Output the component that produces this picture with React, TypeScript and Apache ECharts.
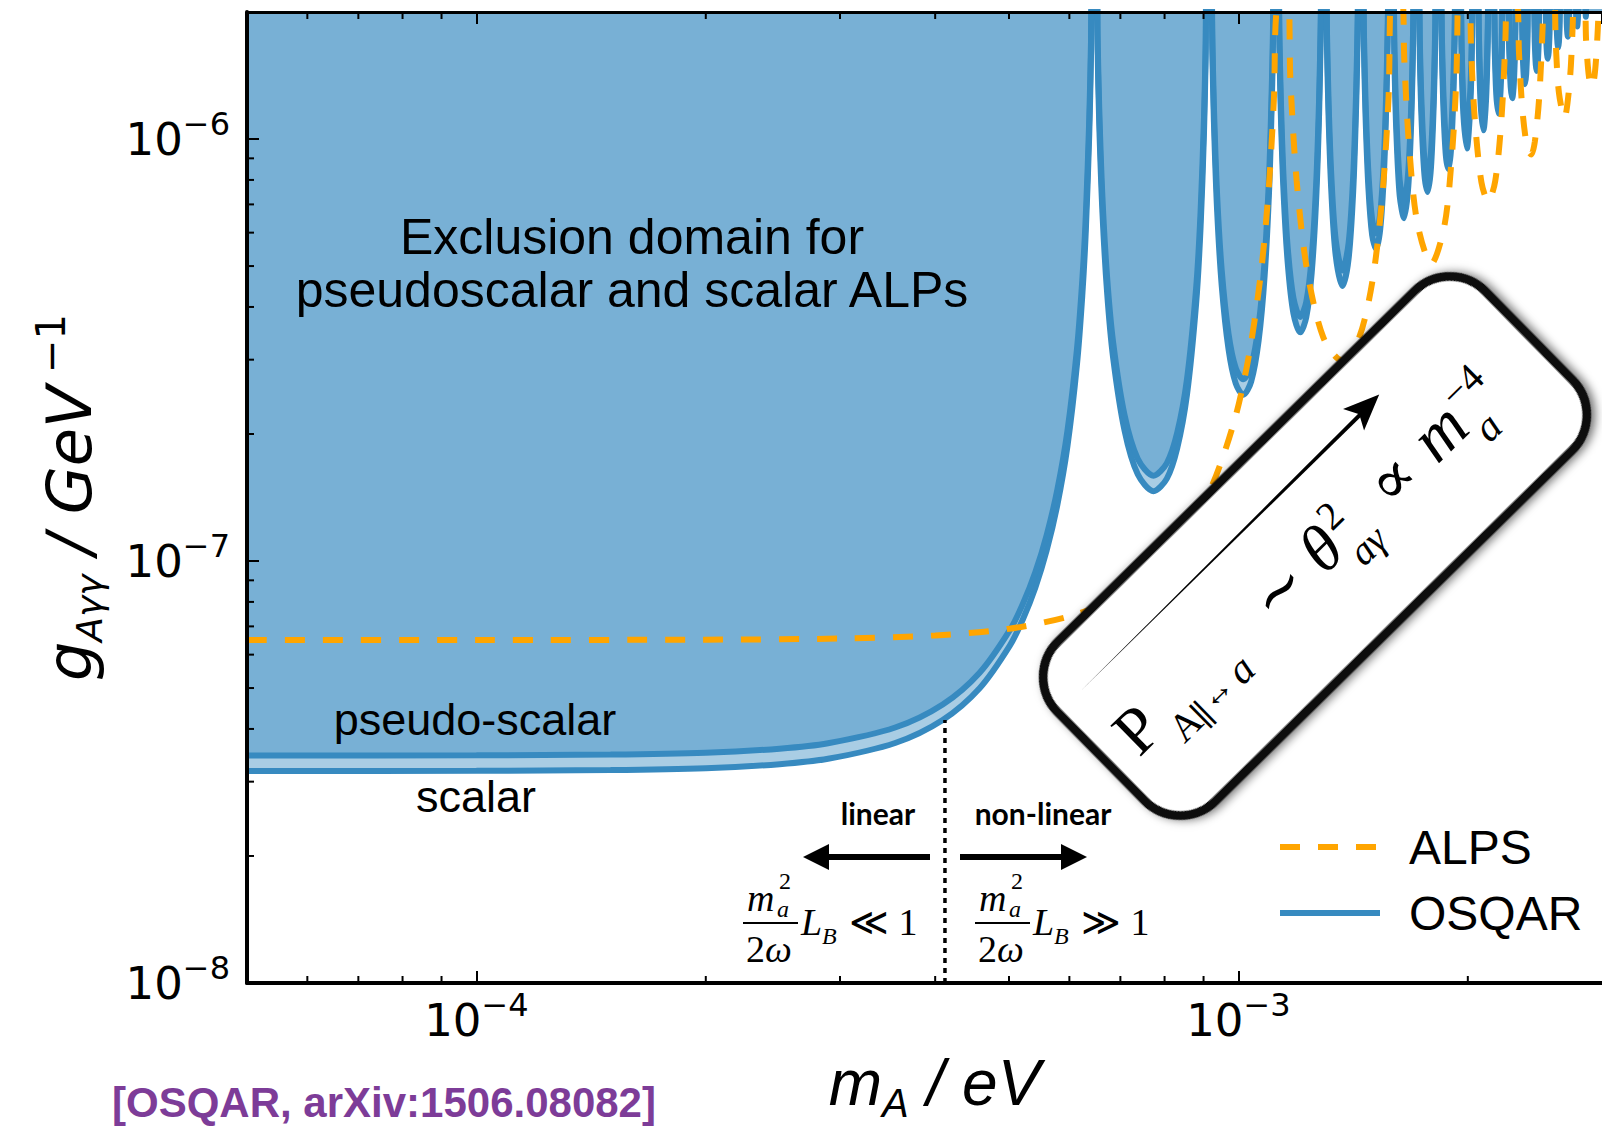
import React, { useEffect, useRef } from "react";
import * as echarts from "echarts";

const SANS = '"Liberation Sans", Arial, Helvetica, sans-serif';
const WIDE = '"DejaVu Sans", Verdana, sans-serif';
const SERIF = '"Liberation Serif", "Times New Roman", "DejaVu Serif", serif';
const ROUND = 'Lato, "DejaVu Sans", sans-serif';

// axis ranges
const massRange = [5e-5, 3e-3];
const couplingRange = [1e-8, 2e-6];

// OSQAR exclusion curves (mass in eV, coupling in GeV^-1)
const osqarMass = [
  5.0e-5, 1.0e-4, 1.5e-4, 2.0e-4, 2.5e-4, 2.894e-4, 3.544e-4, 4.092e-4, 4.575e-4, 5.012e-4, 5.216e-4, 5.413e-4, 5.603e-4, 5.787e-4, 5.965e-4, 6.138e-4, 6.239e-4, 6.306e-4, 6.372e-4, 6.405e-4, 6.421e-4,
  6.518e-4, 6.534e-4, 6.566e-4, 6.63e-4, 6.724e-4, 6.847e-4, 7.088e-4, 7.377e-4, 7.737e-4, 8.055e-4, 8.311e-4, 8.559e-4, 8.8e-4, 8.918e-4, 9.012e-4, 9.058e-4, 9.093e-4,
  9.218e-4, 9.241e-4, 9.286e-4, 9.376e-4, 9.509e-4, 9.705e-4, 9.918e-4, 1.0148e-3, 1.0392e-3, 1.0631e-3, 1.0826e-3, 1.098e-3, 1.1075e-3, 1.1103e-3, 1.1131e-3,
  1.129e-3, 1.1318e-3, 1.1373e-3, 1.1465e-3, 1.161e-3, 1.1807e-3, 1.2052e-3, 1.2276e-3, 1.2479e-3, 1.2645e-3, 1.2761e-3, 1.2826e-3, 1.2867e-3,
  1.3037e-3, 1.3069e-3, 1.3133e-3, 1.3244e-3, 1.3416e-3, 1.3694e-3, 1.3952e-3, 1.4145e-3, 1.4278e-3, 1.4344e-3, 1.438e-3,
  1.4575e-3, 1.4611e-3, 1.4683e-3, 1.4811e-3, 1.4979e-3, 1.516e-3, 1.5352e-3, 1.5528e-3, 1.5649e-3, 1.5716e-3, 1.5749e-3,
  1.5973e-3, 1.6019e-3, 1.611e-3, 1.6278e-3, 1.6495e-3, 1.671e-3, 1.6872e-3, 1.6958e-3, 1.7001e-3,
  1.7252e-3, 1.73e-3, 1.7385e-3, 1.7541e-3, 1.7719e-3, 1.7895e-3, 1.8047e-3, 1.8128e-3, 1.8174e-3,
  1.8448e-3, 1.8493e-3, 1.8584e-3, 1.8718e-3, 1.8863e-3, 1.9007e-3, 1.9139e-3, 1.9226e-3, 1.9269e-3,
  1.9566e-3, 1.9625e-3, 1.9731e-3, 1.9942e-3, 2.0151e-3, 2.0254e-3, 2.0311e-3,
  2.0623e-3, 2.0684e-3, 2.0795e-3, 2.0965e-3, 2.1134e-3, 2.1243e-3, 2.1302e-3,
  2.1633e-3, 2.1691e-3, 2.1797e-3, 2.1941e-3, 2.2083e-3, 2.2188e-3, 2.2244e-3,
  2.2599e-3, 2.2663e-3, 2.2765e-3, 2.2875e-3, 2.2984e-3, 2.3084e-3, 2.3148e-3,
  2.3524e-3, 2.3596e-3, 2.3684e-3, 2.3772e-3, 2.386e-3, 2.3948e-3, 2.4018e-3,
  2.4415e-3, 2.4484e-3, 2.456e-3, 2.4637e-3, 2.4713e-3, 2.4789e-3, 2.4857e-3,
  2.5274e-3, 2.5341e-3, 2.5407e-3, 2.5472e-3, 2.5538e-3, 2.5604e-3, 2.5669e-3,
  2.6105e-3, 2.617e-3, 2.6226e-3, 2.6281e-3, 2.6337e-3, 2.6393e-3, 2.6456e-3,
  2.6911e-3, 2.6973e-3, 2.702e-3, 2.7066e-3, 2.7112e-3, 2.7159e-3, 2.722e-3,
  2.7693e-3, 2.7753e-3, 2.7829e-3, 2.7904e-3, 2.7964e-3,
  2.8461e-3, 2.8571e-3, 2.868e-3,
  3.0e-3,
];

const osqarPseudoscalar = [
  3.46e-8, 3.463e-8, 3.477e-8, 3.512e-8, 3.591e-8, 3.699e-8, 4.031e-8, 4.571e-8, 5.436e-8, 6.858e-8, 7.93e-8, 9.404e-8, 1.153e-7, 1.479e-7, 2.035e-7, 3.166e-7, 4.633e-7, 6.602e-7, 1.12e-6, 1.696e-6, 2.273e-6,
  2.342e-6, 1.766e-6, 1.19e-6, 7.297e-7, 4.719e-7, 3.307e-7, 2.219e-7, 1.747e-7, 1.593e-7, 1.706e-7, 2.013e-7, 2.69e-7, 4.429e-7, 6.685e-7, 1.126e-6, 1.7e-6, 2.736e-6,
  2.345e-6, 1.769e-6, 1.195e-6, 7.387e-7, 4.875e-7, 3.459e-7, 2.867e-7, 2.695e-7, 2.895e-7, 3.628e-7, 5.178e-7, 8.505e-7, 1.46e-6, 1.862e-6, 2.567e-6,
  2.349e-6, 1.775e-6, 1.204e-6, 8.017e-7, 5.491e-7, 4.205e-7, 3.789e-7, 4.115e-7, 5.248e-7, 7.75e-7, 1.248e-6, 1.958e-6, 3.051e-6,
  2.355e-6, 1.783e-6, 1.217e-6, 8.103e-7, 5.778e-7, 4.879e-7, 5.673e-7, 8.152e-7, 1.333e-6, 2.025e-6, 2.866e-6,
  2.363e-6, 1.794e-6, 1.233e-6, 8.321e-7, 6.439e-7, 5.971e-7, 6.667e-7, 9.145e-7, 1.401e-6, 2.075e-6, 2.759e-6,
  2.253e-6, 1.678e-6, 1.147e-6, 7.993e-7, 7.065e-7, 8.422e-7, 1.257e-6, 1.88e-6, 2.552e-6,
  2.282e-6, 1.712e-6, 1.231e-6, 8.968e-7, 8.152e-7, 9.332e-7, 1.327e-6, 1.879e-6, 2.532e-6,
  2.225e-6, 1.745e-6, 1.268e-6, 9.913e-7, 9.24e-7, 1.022e-6, 1.345e-6, 1.886e-6, 2.428e-6,
  2.259e-6, 1.701e-6, 1.249e-6, 1.033e-6, 1.303e-6, 1.812e-6, 2.435e-6,
  2.293e-6, 1.743e-6, 1.304e-6, 1.141e-6, 1.347e-6, 1.838e-6, 2.446e-6,
  2.268e-6, 1.785e-6, 1.385e-6, 1.25e-6, 1.421e-6, 1.867e-6, 2.398e-6,
  2.256e-6, 1.778e-6, 1.447e-6, 1.359e-6, 1.475e-6, 1.845e-6, 2.367e-6,
  2.255e-6, 1.787e-6, 1.531e-6, 1.467e-6, 1.554e-6, 1.841e-6, 2.35e-6,
  2.261e-6, 1.843e-6, 1.631e-6, 1.576e-6, 1.651e-6, 1.89e-6, 2.344e-6,
  2.276e-6, 1.903e-6, 1.73e-6, 1.685e-6, 1.748e-6, 1.942e-6, 2.347e-6,
  2.297e-6, 1.965e-6, 1.83e-6, 1.794e-6, 1.846e-6, 1.999e-6, 2.359e-6,
  2.324e-6, 2.032e-6, 1.93e-6, 1.902e-6, 1.943e-6, 2.06e-6, 2.378e-6,
  2.359e-6, 2.103e-6, 2.011e-6, 2.126e-6, 2.405e-6,
  2.361e-6, 2.12e-6, 2.397e-6,
  2.336e-6,
];

const osqarScalar = [
  3.18e-8, 3.183e-8, 3.196e-8, 3.228e-8, 3.301e-8, 3.399e-8, 3.705e-8, 4.201e-8, 4.996e-8, 6.303e-8, 7.289e-8, 8.643e-8, 1.06e-7, 1.36e-7, 1.87e-7, 2.909e-7, 4.258e-7, 6.067e-7, 1.03e-6, 1.559e-6, 2.089e-6,
  2.153e-6, 1.623e-6, 1.093e-6, 6.707e-7, 4.338e-7, 3.039e-7, 2.04e-7, 1.605e-7, 1.464e-7, 1.568e-7, 1.85e-7, 2.472e-7, 4.07e-7, 6.144e-7, 1.034e-6, 1.562e-6, 2.515e-6,
  2.155e-6, 1.626e-6, 1.098e-6, 6.789e-7, 4.481e-7, 3.179e-7, 2.635e-7, 2.477e-7, 2.661e-7, 3.334e-7, 4.759e-7, 7.816e-7, 1.342e-6, 1.711e-6, 2.359e-6,
  2.159e-6, 1.631e-6, 1.106e-6, 7.368e-7, 5.047e-7, 3.865e-7, 3.482e-7, 3.782e-7, 4.823e-7, 7.123e-7, 1.147e-6, 1.8e-6, 2.804e-6,
  2.165e-6, 1.639e-6, 1.118e-6, 7.448e-7, 5.31e-7, 4.484e-7, 5.214e-7, 7.492e-7, 1.225e-6, 1.861e-6, 2.634e-6,
  2.172e-6, 1.649e-6, 1.133e-6, 7.648e-7, 5.918e-7, 5.487e-7, 6.128e-7, 8.405e-7, 1.287e-6, 1.907e-6, 2.536e-6,
  2.071e-6, 1.542e-6, 1.054e-6, 7.346e-7, 6.494e-7, 7.74e-7, 1.156e-6, 1.728e-6, 2.346e-6,
  2.097e-6, 1.573e-6, 1.131e-6, 8.243e-7, 7.493e-7, 8.576e-7, 1.219e-6, 1.727e-6, 2.327e-6,
  2.045e-6, 1.603e-6, 1.165e-6, 9.111e-7, 8.492e-7, 9.394e-7, 1.236e-6, 1.733e-6, 2.231e-6,
  2.077e-6, 1.564e-6, 1.148e-6, 9.491e-7, 1.198e-6, 1.666e-6, 2.238e-6,
  2.107e-6, 1.602e-6, 1.199e-6, 1.049e-6, 1.238e-6, 1.69e-6, 2.248e-6,
  2.084e-6, 1.64e-6, 1.273e-6, 1.149e-6, 1.306e-6, 1.716e-6, 2.204e-6,
  2.074e-6, 1.634e-6, 1.33e-6, 1.249e-6, 1.356e-6, 1.696e-6, 2.175e-6,
  2.072e-6, 1.642e-6, 1.407e-6, 1.349e-6, 1.428e-6, 1.692e-6, 2.16e-6,
  2.078e-6, 1.694e-6, 1.499e-6, 1.449e-6, 1.518e-6, 1.737e-6, 2.154e-6,
  2.091e-6, 1.749e-6, 1.59e-6, 1.549e-6, 1.607e-6, 1.785e-6, 2.157e-6,
  2.111e-6, 1.806e-6, 1.682e-6, 1.648e-6, 1.696e-6, 1.837e-6, 2.168e-6,
  2.136e-6, 1.867e-6, 1.774e-6, 1.748e-6, 1.786e-6, 1.893e-6, 2.186e-6,
  2.168e-6, 1.933e-6, 1.848e-6, 1.954e-6, 2.21e-6,
  2.17e-6, 1.948e-6, 2.203e-6,
  2.147e-6,
];

// ALPS exclusion curve
const alpsMass = [
  5e-5, 1e-4, 2e-4, 3e-4, 4e-4, 5e-4, 6e-4, 6.756e-4, 7.661e-4, 8.469e-4, 9.207e-4, 9.89e-4, 1.0341e-3, 1.0713e-3, 1.0954e-3, 1.1131e-3, 1.1247e-3,
  1.159e-3, 1.1702e-3, 1.1923e-3, 1.23e-3, 1.292e-3, 1.3656e-3, 1.4355e-3, 1.4977e-3, 1.5449e-3, 1.5741e-3, 1.5927e-3,
  1.6391e-3, 1.651e-3, 1.6745e-3, 1.7168e-3, 1.7912e-3, 1.8625e-3, 1.9041e-3, 1.9313e-3, 1.9548e-3,
  2.0075e-3, 2.0204e-3, 2.0429e-3, 2.084e-3, 2.1273e-3, 2.1728e-3, 2.2144e-3, 2.2408e-3, 2.2553e-3,
  2.3208e-3, 2.3348e-3, 2.3598e-3, 2.3955e-3, 2.4225e-3, 2.4493e-3, 2.4811e-3, 2.5072e-3, 2.5202e-3,
  2.5941e-3, 2.6092e-3, 2.634e-3, 2.6782e-3, 2.7217e-3, 2.7456e-3, 2.7598e-3,
  2.8436e-3, 2.8596e-3, 2.8845e-3, 2.9115e-3, 2.9383e-3, 2.9626e-3, 2.978e-3,
];
const alpsCoupling = [
  6.5e-8, 6.501e-8, 6.51e-8, 6.551e-8, 6.664e-8, 6.91e-8, 7.393e-8, 8.022e-8, 9.303e-8, 1.137e-7, 1.49e-7, 2.166e-7, 3.125e-7, 4.882e-7, 7.554e-7, 1.24e-6, 2.105e-6,
  2.235e-6, 1.371e-6, 7.976e-7, 4.917e-7, 3.392e-7, 2.992e-7, 3.331e-7, 4.558e-7, 7.341e-7, 1.256e-6, 2.31e-6,
  2.245e-6, 1.529e-6, 9.671e-7, 6.331e-7, 5.064e-7, 6.198e-7, 8.906e-7, 1.372e-6, 2.743e-6,
  2.261e-6, 1.609e-6, 1.112e-6, 7.9e-7, 7.118e-7, 7.951e-7, 1.122e-6, 1.732e-6, 2.577e-6,
  2.124e-6, 1.593e-6, 1.162e-6, 9.447e-7, 9.189e-7, 9.877e-7, 1.251e-6, 1.837e-6, 2.504e-6,
  2.187e-6, 1.672e-6, 1.287e-6, 1.123e-6, 1.373e-6, 1.852e-6, 2.475e-6,
  2.154e-6, 1.707e-6, 1.401e-6, 1.327e-6, 1.454e-6, 1.832e-6, 2.362e-6,
];

// linear / non-linear regime boundary
const regimeBoundaryMass = 4.12e-4;
const regimeBoundaryCoupling = [1e-8, 4.2e-8];

// minor ticks
const massMinorTicks = [6e-5, 7e-5, 8e-5, 9e-5, 2e-4, 3e-4, 4e-4, 5e-4, 6e-4, 7e-4, 8e-4, 9e-4, 2e-3];
const couplingMinorTicks = [2e-8, 3e-8, 4e-8, 5e-8, 6e-8, 7e-8, 8e-8, 9e-8, 2e-7, 3e-7, 4e-7, 5e-7, 6e-7, 7e-7, 8e-7, 9e-7];

const legendNames = ["ALPS", "OSQAR"];

const OSQAR_BLUE = "#378ac0";
const OSQAR_FILL = "rgba(55,138,192,0.43)";
const ALPS_ORANGE = "#ffa500";

const mid = (baseline: number, fs: number) => baseline - 0.34 * fs;

function powerLabel(v: number) {
  const l = Math.log10(v);
  const e = Math.round(l);
  if (Math.abs(l - e) > 1e-6) return "";
  return `{b|10}{s|\u2212${Math.abs(e)}}`;
}

function txt(x: number, y: number, text: string, fontSize: number, o: any = {}) {
  return {
    type: "text",
    x,
    y,
    z: o.z ?? 50,
    silent: true,
    style: {
      text,
      fontSize,
      fontFamily: o.family ?? SANS,
      fontStyle: o.italic ? "italic" : "normal",
      fontWeight: o.weight ?? "normal",
      fill: o.color ?? "#000",
      textAlign: o.align ?? "left",
      textVerticalAlign: "middle",
      verticalAlign: "middle",
      ...(o.lineHeight ? { lineHeight: o.lineHeight } : {}),
    },
  };
}

function fraction(x0: number, rel: string) {
  return [
    txt(x0 + 4, mid(911, 38), "m", 38, { family: SERIF, italic: true }),
    txt(x0 + 36, mid(889, 24), "2", 24, { family: SERIF }),
    txt(x0 + 34, mid(917, 24), "a", 24, { family: SERIF, italic: true }),
    { type: "line", z: 50, silent: true, shape: { x1: x0, y1: 923, x2: x0 + 55, y2: 923 }, style: { stroke: "#000", lineWidth: 2 } },
    txt(x0 + 3, mid(962, 38), "2", 38, { family: SERIF }),
    txt(x0 + 22, mid(962, 38), "\u03c9", 38, { family: SERIF, italic: true }),
    txt(x0 + 58, mid(935, 38), "L", 38, { family: SERIF, italic: true }),
    txt(x0 + 79, mid(944, 24), "B", 24, { family: SERIF, italic: true }),
    txt(x0 + 106, mid(935, 38), rel + " 1", 38, { family: SERIF }),
  ];
}

function boxChildren() {
  const z = 60;
  const c: any[] = [
    {
      type: "rect",
      z,
      shape: { x: -300, y: -112, width: 600, height: 224, r: 50 },
      style: { fill: "#fff", stroke: "#111", lineWidth: 9, shadowBlur: 10, shadowColor: "rgba(0,0,0,0.55)", shadowOffsetX: 3, shadowOffsetY: 3 },
    },
    { type: "polygon", z, shape: { points: [[-268, -61], [126, -64], [126, -60]] }, style: { fill: "#000" } },
    { type: "polygon", z, shape: { points: [[152, -63], [116, -78], [124, -63], [116, -48]] }, style: { fill: "#000" } },
  ];
  const t = (x: number, b: number, s: string, fs: number, italic = false) =>
    ({ ...txt(x, mid(b, fs), s, fs, { family: SERIF, italic, z }) });
  c.push(t(-274, 28, "P", 66));
  c.push(t(-232, 50, "A", 40));
  c.push(t(-206, 54, "\u2225", 34));
  c.push(t(-190, 46, "\u2194", 34));
  c.push(t(-150, 50, "a", 42, true));
  c.push(t(-84, 28, "\u223c", 64));
  c.push(t(-14, 28, "\u03b8", 66, true));
  c.push(t(22, 2, "2", 40));
  c.push(t(20, 50, "a\u03b3", 40, true));
  c.push(t(80, 28, "\u221d", 64));
  c.push(t(144, 28, "m", 68, true));
  c.push(t(196, 50, "a", 42, true));
  c.push(t(196, 2, "\u22124", 40));
  return c;
}

export default function App() {
  const ref = useRef<HTMLDivElement>(null);

  useEffect(() => {
    if (!ref.current) return;
    const chart = echarts.init(ref.current, undefined, { renderer: "svg" });

    const [xMin, xMax] = massRange;
    const [yMin, yMax] = couplingRange;

    const labelRich = {
      b: { fontSize: 45, fontFamily: WIDE, color: "#000", lineHeight: 62 },
      s: { fontSize: 32, fontFamily: WIDE, color: "#000", verticalAlign: "top" },
    };

    const tickRender = (horizontal: boolean) => (params: any, api: any) => {
      const v = api.value(horizontal ? 0 : 1);
      const style = { stroke: "#000", lineWidth: 2 };
      if (horizontal) {
        const b = api.coord([v, yMin]);
        const t = api.coord([v, yMax]);
        return {
          type: "group",
          children: [
            { type: "line", shape: { x1: b[0], y1: b[1], x2: b[0], y2: b[1] - 7 }, style },
            { type: "line", shape: { x1: t[0], y1: t[1], x2: t[0], y2: t[1] + 7 }, style },
          ],
        };
      }
      const l = api.coord([xMin, v]);
      return {
        type: "group",
        children: [{ type: "line", shape: { x1: l[0], y1: l[1], x2: l[0] + 7, y2: l[1] }, style }],
      };
    };

    const curveCommon = {
      type: "line",
      symbol: "none",
      showSymbol: false,
      smooth: 0.3,
    };

    const option: any = {
      animation: false,
      backgroundColor: "#fff",
      grid: { left: 247, top: 12, right: 0, bottom: 146, containLabel: false },
      legend: {
        data: legendNames,
        orient: "vertical",
        left: 1272,
        top: 818,
        itemGap: 18,
        itemWidth: 100,
        itemHeight: 14,
        selectedMode: false,
        lineStyle: { width: 6 },
        itemStyle: { opacity: 0 },
        textStyle: { fontSize: 48, fontFamily: SANS, color: "#000", padding: [0, 0, 0, 24] },
      },
      xAxis: [
        {
          type: "log",
          logBase: 10,
          min: xMin,
          max: xMax,
          position: "bottom",
          z: 10,
          name: "{m|m}{sub|A}{t| / eV}",
          nameLocation: "middle",
          nameGap: 60,
          nameTextStyle: {
            color: "#000",
            padding: [0, 0, 0, 20],
            rich: {
              m: { fontSize: 64, fontStyle: "italic", fontFamily: SANS, color: "#000", lineHeight: 80 },
              sub: { fontSize: 40, fontStyle: "italic", fontFamily: SANS, color: "#000", verticalAlign: "bottom" },
              t: { fontSize: 64, fontStyle: "italic", fontFamily: SANS, color: "#000", lineHeight: 80 },
            },
          },
          axisLine: { show: true, onZero: false, lineStyle: { color: "#000", width: 4 } },
          axisTick: { show: true, inside: true, length: 12, lineStyle: { color: "#000", width: 2 } },
          axisLabel: {
            show: true,
            margin: 6,
            formatter: powerLabel,
            showMinLabel: false,
            showMaxLabel: false,
            color: "#000",
            fontSize: 45,
            fontFamily: WIDE,
            rich: labelRich,
          },
          splitLine: { show: false },
        },
        {
          type: "log",
          logBase: 10,
          min: xMin,
          max: xMax,
          position: "top",
          z: 10,
          axisLine: { show: true, onZero: false, lineStyle: { color: "#000", width: 3 } },
          axisTick: { show: true, inside: true, length: 12, lineStyle: { color: "#000", width: 2 } },
          axisLabel: { show: false },
          splitLine: { show: false },
        },
      ],
      yAxis: {
        type: "log",
        logBase: 10,
        min: yMin,
        max: yMax,
        z: 10,
        name: "{g|g}{sub|A\u03b3\u03b3}{t| / GeV}{sup| \u22121}",
        nameLocation: "middle",
        nameGap: 140,
        nameRotate: 90,
        nameTextStyle: {
          color: "#000",
          rich: {
            g: { fontSize: 62, fontStyle: "italic", fontFamily: WIDE, color: "#000", lineHeight: 76 },
            sub: { fontSize: 36, fontStyle: "italic", fontFamily: WIDE, color: "#000", verticalAlign: "bottom" },
            t: { fontSize: 62, fontStyle: "italic", fontFamily: WIDE, color: "#000", lineHeight: 76 },
            sup: { fontSize: 40, fontFamily: WIDE, color: "#000", verticalAlign: "top" },
          },
        },
        axisLine: { show: true, onZero: false, lineStyle: { color: "#000", width: 4 } },
        axisTick: { show: true, inside: true, length: 12, lineStyle: { color: "#000", width: 2 } },
        axisLabel: {
          show: true,
          margin: 17,
          formatter: powerLabel,
          showMaxLabel: false,
          color: "#000",
          fontSize: 45,
          fontFamily: WIDE,
          rich: labelRich,
        },
        splitLine: { show: false },
      },
      series: [
        {
          ...curveCommon,
          name: "OSQAR",
          color: OSQAR_BLUE,
          z: 2,
          data: osqarMass.map((m, i) => [m, osqarScalar[i]]),
          lineStyle: { color: OSQAR_BLUE, width: 6 },
          areaStyle: { color: OSQAR_FILL, opacity: 1, origin: yMax },
        },
        {
          ...curveCommon,
          name: "OSQAR",
          color: OSQAR_BLUE,
          z: 3,
          data: osqarMass.map((m, i) => [m, osqarPseudoscalar[i]]),
          lineStyle: { color: OSQAR_BLUE, width: 6 },
          areaStyle: { color: OSQAR_FILL, opacity: 1, origin: yMax },
        },
        {
          ...curveCommon,
          name: "ALPS",
          color: ALPS_ORANGE,
          z: 4,
          data: alpsMass.map((m, i) => [m, alpsCoupling[i]]),
          lineStyle: { color: ALPS_ORANGE, width: 6, type: [20, 18] },
        },
        {
          name: "regime boundary",
          type: "line",
          symbol: "none",
          silent: true,
          z: 5,
          data: regimeBoundaryCoupling.map((g) => [regimeBoundaryMass, g]),
          lineStyle: { color: "#000", width: 3.5, type: [5, 5] },
        },
        {
          name: "minor x ticks",
          type: "custom",
          silent: true,
          z: 11,
          clip: false,
          data: massMinorTicks.map((v) => [v, yMin]),
          encode: { x: 0, y: 1 },
          renderItem: tickRender(true),
        },
        {
          name: "minor y ticks",
          type: "custom",
          silent: true,
          z: 11,
          clip: false,
          data: couplingMinorTicks.map((v) => [xMin, v]),
          encode: { x: 0, y: 1 },
          renderItem: tickRender(false),
        },
      ],
      graphic: {
        elements: [
          txt(632, 263, "Exclusion domain for\npseudoscalar and scalar ALPs", 50, { align: "center", lineHeight: 53 }),
          txt(475, mid(735, 45), "pseudo-scalar", 45, { align: "center" }),
          txt(476, mid(812, 45), "scalar", 45, { align: "center" }),
          txt(878, mid(823, 30), "linear", 30, { align: "center", family: ROUND, weight: "bold" }),
          txt(1043, mid(823, 30), "non-linear", 30, { align: "center", family: ROUND, weight: "bold" }),
          { type: "line", z: 50, silent: true, shape: { x1: 930, y1: 857, x2: 822, y2: 857 }, style: { stroke: "#000", lineWidth: 6 } },
          { type: "polygon", z: 50, silent: true, shape: { points: [[803, 857], [829, 844], [829, 870]] }, style: { fill: "#000" } },
          { type: "line", z: 50, silent: true, shape: { x1: 960, y1: 857, x2: 1068, y2: 857 }, style: { stroke: "#000", lineWidth: 6 } },
          { type: "polygon", z: 50, silent: true, shape: { points: [[1087, 857], [1061, 844], [1061, 870]] }, style: { fill: "#000" } },
          ...fraction(743, "\u226a"),
          ...fraction(975, "\u226b"),
          { type: "group", x: 1315, y: 546, rotation: 0.7767, z: 60, silent: true, children: boxChildren() },
          txt(112, mid(1117, 42), "[OSQAR, arXiv:1506.08082]", 42, { weight: "bold", color: "#7d3c98" }),
        ],
      },
    };

    chart.setOption(option);
    return () => chart.dispose();
  }, []);

  return (
    <div
      ref={ref}
      style={{ position: "fixed", left: 0, top: 0, width: 1602, height: 1129, background: "#fff" }}
    />
  );
}
